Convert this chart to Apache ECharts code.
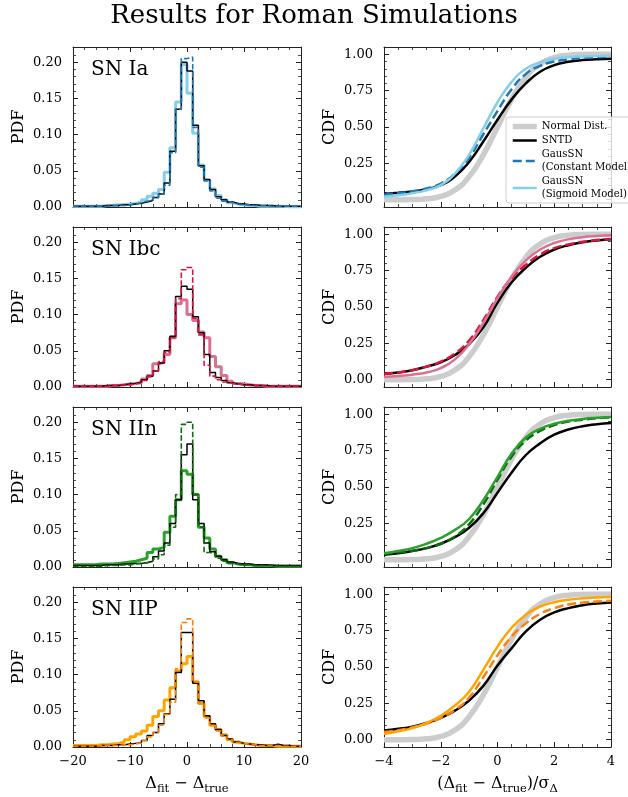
<!DOCTYPE html>
<html><head><meta charset="utf-8">
<script src="https://cdn.jsdelivr.net/npm/echarts@6/dist/echarts.min.js"></script>
<style>html,body{margin:0;padding:0;background:#fff}#c{width:628px;height:797px}</style>
</head><body><div id="c"></div>
<script>
// ---------------- data ----------------
const chartTitle = 'Results for Roman Simulations';
const panelNames = ['SN Ia', 'SN Ibc', 'SN IIn', 'SN IIP'];
const legendNames = ['Normal Dist.', 'SNTD', 'GausSN\n(Constant Model)', 'GausSN\n(Sigmoid Model)'];

const binEdges = [-20,-19,-18,-17,-16,-15,-14,-13,-12,-11,-10,-9,-8,-7,-6,-5,-4,-3,-2,-1,0,1,2,3,4,5,6,7,8,9,10,11,12,13,14,15,16,17,18,19,20];

const pdfIaSNTD  = [0.001,0.001,0.001,0.001,0.001,0.002,0.002,0.002,0.003,0.003, 0.004,0.005,0.007,0.009,0.013,0.018,0.033,0.077,0.135,0.200, 0.188,0.113,0.057,0.038,0.024,0.014,0.010,0.007,0.005,0.004, 0.003,0.003,0.002,0.002,0.002,0.001,0.001,0.001,0.001,0.001];
const pdfIaConst = [0.001,0.001,0.001,0.001,0.001,0.001,0.002,0.002,0.002,0.003, 0.004,0.006,0.008,0.010,0.013,0.018,0.030,0.075,0.135,0.205, 0.207,0.110,0.055,0.036,0.022,0.012,0.008,0.006,0.004,0.003, 0.003,0.002,0.002,0.002,0.001,0.001,0.001,0.001,0.001,0.001];
const pdfIaSig   = [0.001,0.001,0.001,0.001,0.001,0.002,0.002,0.003,0.003,0.004, 0.005,0.007,0.010,0.015,0.019,0.024,0.048,0.082,0.145,0.197, 0.157,0.102,0.058,0.037,0.025,0.016,0.010,0.006,0.004,0.003, 0.002,0.002,0.001,0.001,0.001,0.001,0.001,0.000,0.000,0.000];

const pdfIbcSNTD  = [0.001,0.001,0.001,0.001,0.001,0.002,0.002,0.002,0.003,0.004, 0.005,0.007,0.010,0.015,0.022,0.033,0.050,0.070,0.125,0.139, 0.135,0.097,0.075,0.045,0.020,0.013,0.009,0.006,0.004,0.003, 0.003,0.002,0.002,0.002,0.001,0.001,0.001,0.001,0.001,0.001];
const pdfIbcConst = [0.001,0.001,0.001,0.001,0.001,0.001,0.002,0.002,0.003,0.003, 0.004,0.006,0.009,0.014,0.022,0.035,0.048,0.068,0.122,0.162, 0.165,0.095,0.072,0.030,0.015,0.010,0.007,0.005,0.004,0.003, 0.002,0.002,0.002,0.001,0.001,0.001,0.001,0.001,0.001,0.001];
const pdfIbcSig   = [0.001,0.001,0.001,0.001,0.001,0.001,0.002,0.002,0.003,0.004, 0.005,0.006,0.011,0.016,0.032,0.034,0.045,0.068,0.115,0.120, 0.100,0.092,0.076,0.068,0.042,0.028,0.016,0.008,0.005,0.004, 0.003,0.002,0.002,0.001,0.001,0.001,0.001,0.001,0.001,0.001];

const pdfIInSNTD  = [0.002,0.002,0.002,0.002,0.002,0.003,0.003,0.003,0.004,0.004, 0.005,0.005,0.006,0.008,0.014,0.022,0.033,0.060,0.093,0.155, 0.170,0.093,0.060,0.033,0.021,0.015,0.010,0.007,0.005,0.004, 0.004,0.003,0.003,0.003,0.002,0.002,0.002,0.002,0.002,0.002];
const pdfIInConst = [0.001,0.001,0.001,0.001,0.001,0.002,0.002,0.002,0.003,0.003, 0.004,0.005,0.006,0.008,0.011,0.017,0.030,0.055,0.100,0.197, 0.200,0.100,0.055,0.020,0.018,0.012,0.008,0.005,0.004,0.003, 0.003,0.002,0.002,0.002,0.002,0.001,0.001,0.001,0.001,0.001];
const pdfIInSig   = [0.003,0.003,0.003,0.003,0.004,0.004,0.004,0.005,0.006,0.007, 0.008,0.010,0.012,0.020,0.025,0.027,0.048,0.070,0.093,0.133, 0.128,0.100,0.055,0.040,0.025,0.015,0.010,0.006,0.004,0.003, 0.003,0.002,0.002,0.002,0.002,0.001,0.001,0.001,0.001,0.001];

const pdfIIPSNTD  = [0.001,0.001,0.001,0.001,0.002,0.002,0.002,0.003,0.003,0.004, 0.005,0.006,0.009,0.016,0.020,0.032,0.046,0.066,0.103,0.158, 0.158,0.088,0.064,0.043,0.032,0.024,0.016,0.011,0.007,0.005, 0.004,0.003,0.003,0.002,0.002,0.004,0.002,0.002,0.001,0.001];
const pdfIIPConst = [0.001,0.001,0.001,0.001,0.002,0.002,0.002,0.002,0.003,0.003, 0.004,0.006,0.009,0.014,0.020,0.030,0.045,0.062,0.108,0.172, 0.177,0.090,0.060,0.040,0.030,0.022,0.015,0.010,0.006,0.005, 0.004,0.003,0.002,0.002,0.002,0.002,0.001,0.001,0.001,0.001];
const pdfIIPSig   = [0.002,0.002,0.002,0.002,0.003,0.003,0.004,0.005,0.007,0.010, 0.014,0.018,0.022,0.030,0.042,0.050,0.065,0.082,0.105,0.115, 0.125,0.090,0.060,0.042,0.030,0.024,0.017,0.010,0.007,0.005, 0.004,0.003,0.002,0.002,0.002,0.001,0.001,0.001,0.001,0.001];

const cdfX = [-4,-3.5,-3,-2.5,-2,-1.5,-1,-0.5,0,0.5,1,1.5,2,2.5,3,3.5,4];
const cdfNormal = [0.00003,0.0002,0.0013,0.0062,0.0228,0.0668,0.1587,0.3085,0.5,0.6915,0.8413,0.9332,0.9772,0.9938,0.9987,0.9998,1.0];

const cdfIaSNTD  = [0.040,0.048,0.057,0.072,0.100,0.160,0.260,0.400,0.550,0.690,0.800,0.880,0.925,0.948,0.960,0.966,0.970];
const cdfIaConst = [0.035,0.045,0.058,0.077,0.110,0.180,0.290,0.450,0.610,0.760,0.865,0.920,0.950,0.965,0.975,0.980,0.983];
const cdfIaSig   = [0.020,0.030,0.045,0.065,0.100,0.180,0.310,0.490,0.670,0.810,0.900,0.945,0.970,0.980,0.985,0.988,0.990];

const cdfIbcSNTD  = [0.040,0.050,0.065,0.090,0.120,0.170,0.245,0.360,0.530,0.670,0.770,0.845,0.895,0.925,0.945,0.958,0.965];
const cdfIbcConst = [0.040,0.050,0.066,0.090,0.125,0.180,0.270,0.410,0.570,0.700,0.790,0.860,0.905,0.930,0.948,0.960,0.968];
const cdfIbcSig   = [0.020,0.025,0.035,0.050,0.080,0.140,0.245,0.390,0.560,0.710,0.820,0.895,0.940,0.965,0.980,0.988,0.993];

const cdfIInSNTD  = [0.035,0.045,0.060,0.080,0.110,0.155,0.220,0.320,0.460,0.600,0.720,0.800,0.860,0.895,0.918,0.932,0.940];
const cdfIInConst = [0.040,0.050,0.062,0.080,0.110,0.160,0.245,0.380,0.550,0.710,0.820,0.885,0.925,0.950,0.963,0.972,0.978];
const cdfIInSig   = [0.045,0.060,0.080,0.110,0.150,0.205,0.280,0.410,0.570,0.730,0.840,0.900,0.935,0.955,0.968,0.976,0.982];

const cdfIIPSNTD  = [0.063,0.075,0.090,0.115,0.150,0.200,0.270,0.370,0.510,0.630,0.745,0.825,0.875,0.905,0.925,0.937,0.944];
const cdfIIPConst = [0.053,0.065,0.085,0.110,0.150,0.205,0.290,0.430,0.580,0.710,0.800,0.865,0.905,0.930,0.943,0.950,0.955];
const cdfIIPSig   = [0.040,0.058,0.080,0.115,0.165,0.235,0.330,0.480,0.640,0.770,0.860,0.915,0.945,0.962,0.972,0.978,0.982];

const pdfTicks = [0, 0.05, 0.10, 0.15, 0.20];
const cdfTicks = [0, 0.25, 0.50, 0.75, 1.00];

// ---------------- styles ----------------
const FONT = 'DejaVu Serif';
const darkColors  = ['#1f77b4', '#dc143c', '#0b6e0b', '#ff7f0e'];
const lightColors = ['#87ceeb', '#db7093', '#2ca02c', '#ffa500'];
const histSets = [
  [pdfIaSNTD, pdfIaConst, pdfIaSig],
  [pdfIbcSNTD, pdfIbcConst, pdfIbcSig],
  [pdfIInSNTD, pdfIInConst, pdfIInSig],
  [pdfIIPSNTD, pdfIIPConst, pdfIIPSig]
];
const cdfSets = [
  [cdfIaSNTD, cdfIaConst, cdfIaSig],
  [cdfIbcSNTD, cdfIbcConst, cdfIbcSig],
  [cdfIInSNTD, cdfIInConst, cdfIInSig],
  [cdfIIPSNTD, cdfIIPConst, cdfIIPSig]
];

function stepData(vals) {
  const d = vals.map((v, i) => [binEdges[i], v]);
  d.push([binEdges[binEdges.length - 1], vals[vals.length - 1]]);
  return d;
}
function cdfData(ys) { return cdfX.map((x, i) => [x, ys[i]]); }
const minusFmt = v => (v < 0 ? '\u2212' + Math.abs(v) : String(v));

const grids = [], xAxes = [], yAxes = [], series = [], titles = [];
titles.push({ text: chartTitle, left: 'center', top: 3, padding: 0,
  textStyle: { fontFamily: FONT, fontSize: 26, fontWeight: 'normal', color: '#000' } });

const LEFT_X = 73, LEFT_W = 228, RIGHT_X = 384, RIGHT_W = 227, TOP0 = 47, ROW = 180, H = 160;
const axisCol = '#222';
const SMOOTH = 0.5;
const subRich = {
  m: { fontFamily: FONT, fontSize: 16, lineHeight: 22, color: '#000' },
  s: { fontFamily: FONT, fontSize: 11.5, lineHeight: 12, verticalAlign: 'bottom', color: '#000' }
};

for (let r = 0; r < 4; r++) {
  for (let side = 0; side < 2; side++) {
    const g = grids.length;
    const isLeft = side === 0;
    const isBottom = r === 3;
    grids.push({ left: isLeft ? LEFT_X : RIGHT_X, top: TOP0 + ROW * r, width: isLeft ? LEFT_W : RIGHT_W, height: H });
    const xBase = {
      type: 'value', gridIndex: g, min: isLeft ? -20 : -4, max: isLeft ? 20 : 4, interval: isLeft ? 10 : 2,
      axisLine: { show: true, onZero: false, lineStyle: { color: axisCol, width: 1 } },
      axisTick: { show: true, inside: true, length: 5, lineStyle: { color: axisCol, width: 1 } },
      minorTick: { show: true, splitNumber: isLeft ? 5 : 4, length: 3, lineStyle: { color: axisCol, width: 0.8 } },
      splitLine: { show: false }, minorSplitLine: { show: false }
    };
    const bottomX = Object.assign({}, xBase, {
      position: 'bottom',
      axisLabel: { show: isBottom, formatter: minusFmt, fontFamily: FONT, fontSize: 13, color: '#000', margin: 8,
                   showMinLabel: true, showMaxLabel: true }
    });
    if (isBottom) {
      bottomX.name = isLeft
        ? '{m|\u0394}{s|fit}{m| \u2212 \u0394}{s|true}'
        : '{m|(\u0394}{s|fit}{m| \u2212 \u0394}{s|true}{m|)/\u03c3}{s|\u0394}';
      bottomX.nameLocation = 'middle';
      bottomX.nameGap = 26;
      bottomX.nameTextStyle = { rich: subRich };
    }
    xAxes.push(bottomX);
    xAxes.push(Object.assign({}, xBase, { position: 'top', axisLabel: { show: false } }));

    const yMin = isLeft ? 0 : -0.05, yMax = isLeft ? 0.221 : 1.05;
    const majors = isLeft ? pdfTicks : cdfTicks;
    const minorInt = isLeft ? 0.01 : 0.05;
    const yMajor = (pos, withLabel) => ({
      type: 'value', gridIndex: g, position: pos, min: yMin, max: yMax,
      axisLine: { show: true, onZero: false, lineStyle: { color: axisCol, width: 1 } },
      axisTick: { show: true, inside: true, length: 5, customValues: majors, lineStyle: { color: axisCol, width: 1 } },
      axisLabel: { show: withLabel, customValues: majors, formatter: v => v.toFixed(2),
                   fontFamily: FONT, fontSize: 13, color: '#000', margin: 11 },
      splitLine: { show: false },
      name: withLabel ? (isLeft ? 'PDF' : 'CDF') : '',
      nameLocation: 'middle', nameGap: 46, nameRotate: 90,
      nameTextStyle: { fontFamily: FONT, fontSize: 16, color: '#000' }
    });
    const yMinor = pos => ({
      type: 'value', gridIndex: g, position: pos, min: yMin, max: yMax, interval: minorInt,
      axisLine: { show: false, onZero: false },
      axisTick: { show: true, inside: true, length: 3, lineStyle: { color: axisCol, width: 0.8 } },
      axisLabel: { show: false }, splitLine: { show: false }
    });
    yAxes.push(yMajor('left', true), yMinor('left'), yMajor('right', false), yMinor('right'));

    const xi = 2 * g, yi = 4 * g;
    if (isLeft) {
      const [sntd, con, sig] = histSets[r];
      series.push({ type: 'line', name: panelNames[r] + ' PDF sigmoid', xAxisIndex: xi, yAxisIndex: yi, step: 'end',
        symbol: 'none', data: stepData(sig), lineStyle: { color: lightColors[r], width: 3 }, itemStyle: { color: lightColors[r] } });
      series.push({ type: 'line', name: panelNames[r] + ' PDF SNTD', xAxisIndex: xi, yAxisIndex: yi, step: 'end',
        symbol: 'none', data: stepData(sntd), lineStyle: { color: '#000', width: 1.5 }, itemStyle: { color: '#000' } });
      series.push({ type: 'line', name: panelNames[r] + ' PDF constant', xAxisIndex: xi, yAxisIndex: yi, step: 'end',
        symbol: 'none', data: stepData(con), lineStyle: { color: darkColors[r], width: 1.6, type: [5.5, 2.4] }, itemStyle: { color: darkColors[r] } });
      titles.push({ text: panelNames[r], left: 91, top: TOP0 + ROW * r + 13, padding: 0,
        textStyle: { fontFamily: FONT, fontSize: 20, fontWeight: 'normal', color: '#000' } });
    } else {
      const [sntd, con, sig] = cdfSets[r];
      const nm = k => (r === 0 ? legendNames[k] : panelNames[r] + ' CDF ' + k);
      series.push({ type: 'line', name: nm(0), xAxisIndex: xi, yAxisIndex: yi, smooth: SMOOTH,
        symbol: 'none', data: cdfData(cdfNormal), lineStyle: { color: '#cccccc', width: 5.5 }, itemStyle: { color: '#cccccc' } });
      series.push({ type: 'line', name: nm(1), xAxisIndex: xi, yAxisIndex: yi, smooth: SMOOTH,
        symbol: 'none', data: cdfData(sntd), lineStyle: { color: '#000', width: 2.5 }, itemStyle: { color: '#000' } });
      series.push({ type: 'line', name: nm(2), xAxisIndex: xi, yAxisIndex: yi, smooth: SMOOTH,
        symbol: 'none', data: cdfData(con), lineStyle: { color: darkColors[r], width: 2.5, type: [9, 4] }, itemStyle: { color: darkColors[r] } });
      series.push({ type: 'line', name: nm(3), xAxisIndex: xi, yAxisIndex: yi, smooth: SMOOTH,
        symbol: 'none', data: cdfData(sig), lineStyle: { color: lightColors[r], width: 2.5 }, itemStyle: { color: lightColors[r] } });
    }
  }
}

const chart = echarts.init(document.getElementById('c'), null, { renderer: 'canvas' });
chart.setOption({
  animation: false,
  backgroundColor: '#fff',
  title: titles,
  legend: {
    data: legendNames, orient: 'vertical', left: 506, top: 117,
    itemWidth: 24, itemHeight: 10, itemGap: 1, padding: [3, 6, 2, 4],
    backgroundColor: 'rgba(255,255,255,0.8)', borderColor: '#cccccc', borderWidth: 1, borderRadius: 3,
    textStyle: { fontFamily: FONT, fontSize: 10.1, color: '#000', lineHeight: 13 },
    itemStyle: { opacity: 0 }, lineStyle: { width: 'inherit', type: 'inherit' }, selectedMode: false
  },
  grid: grids, xAxis: xAxes, yAxis: yAxes, series: series
});
</script>
</body></html>
